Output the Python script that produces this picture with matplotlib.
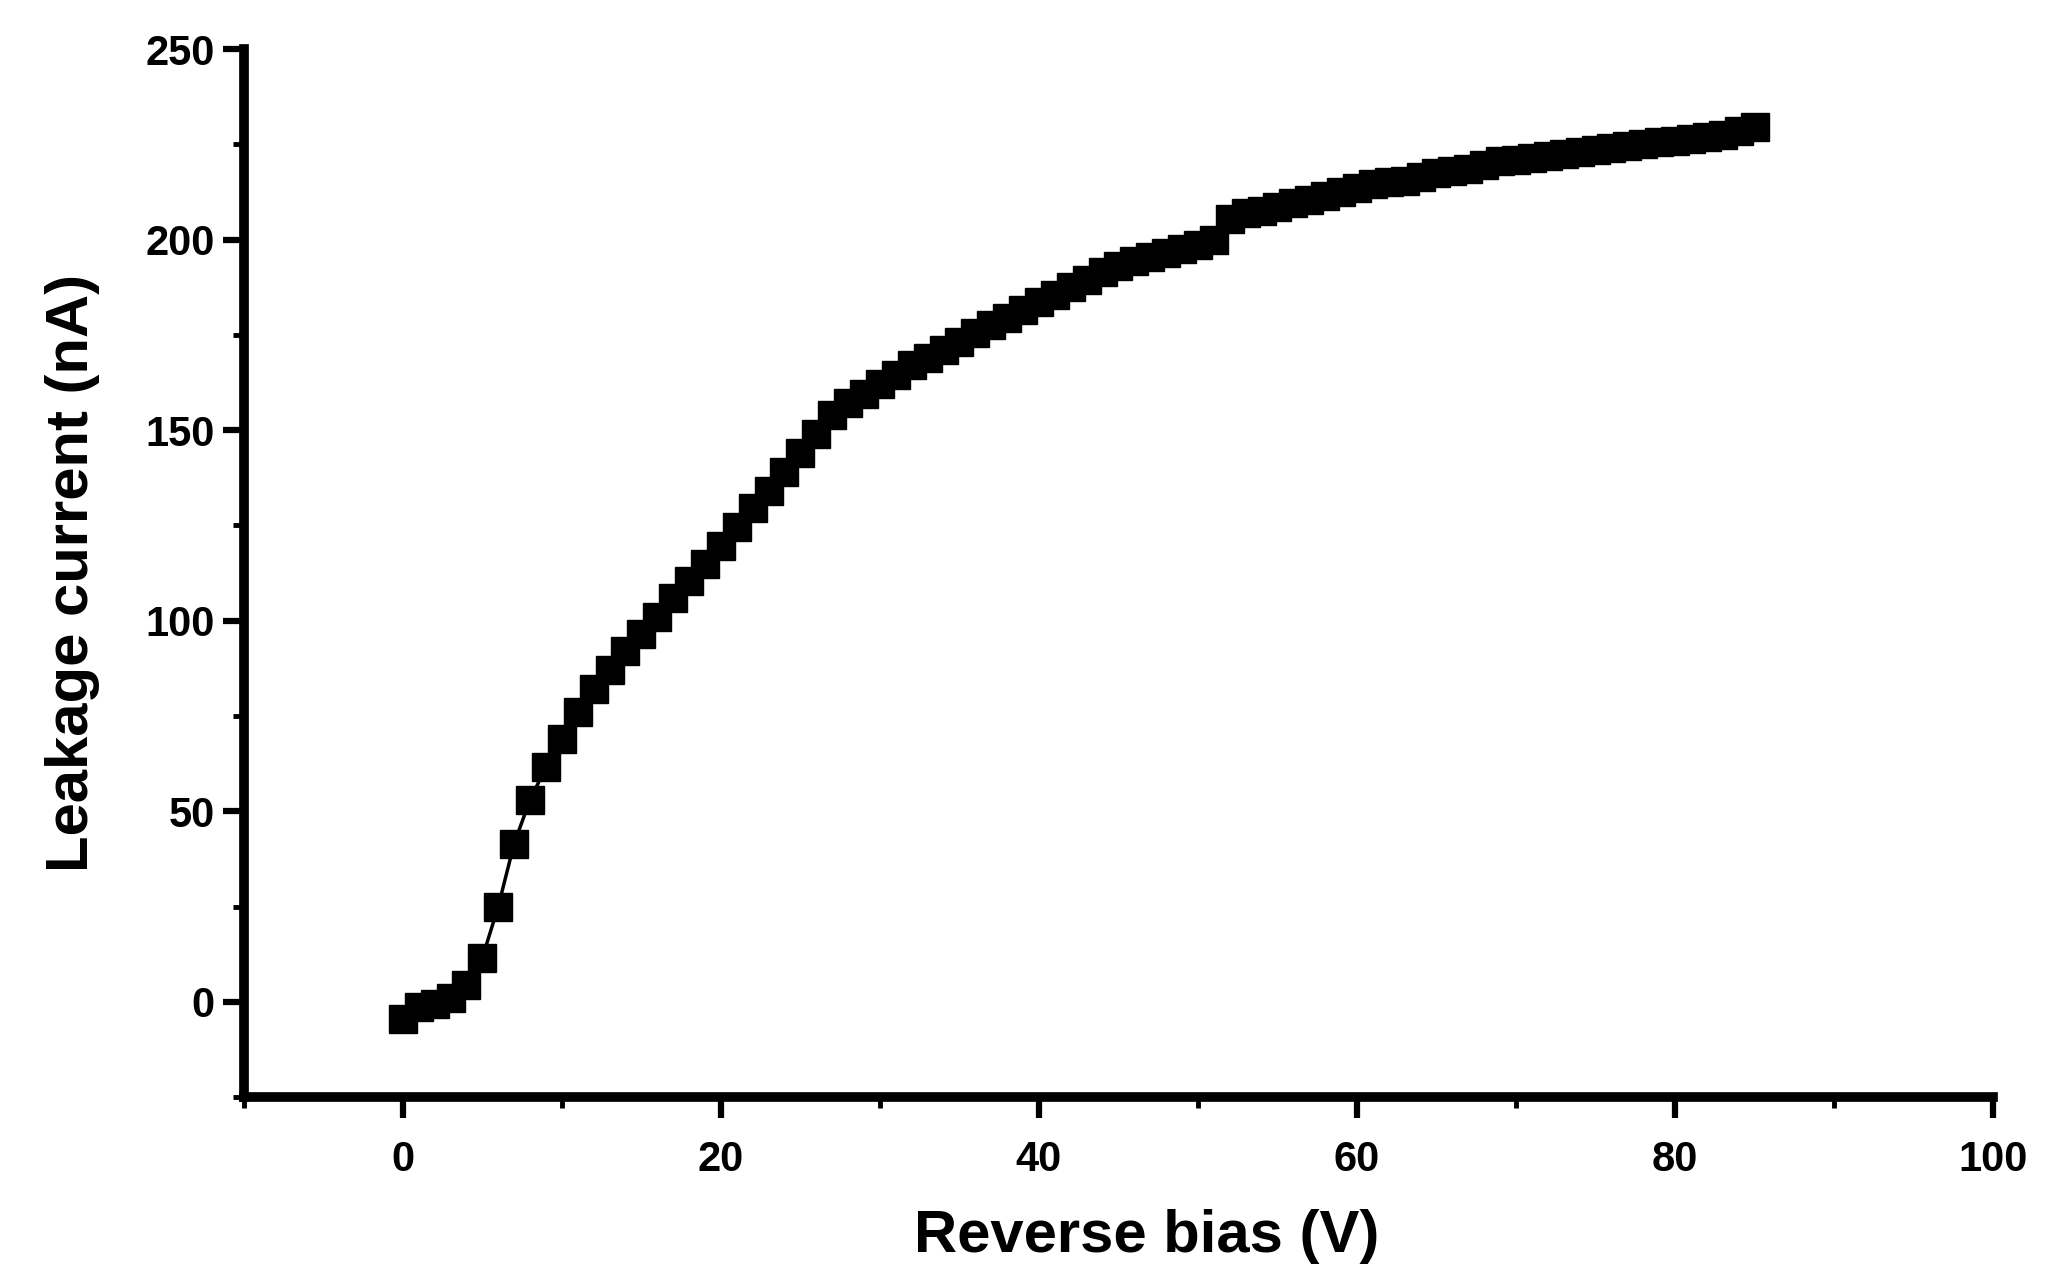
import numpy as np
import matplotlib
matplotlib.use("Agg")
import matplotlib.pyplot as plt
from matplotlib.ticker import MultipleLocator

# reverse bias sweep, 1 V steps
bias = np.arange(0, 86, 1)
current = [
    -4.5, -1.5, -0.5, 1.0, 4.5, 11.5, 25.0, 41.5, 53.0, 61.5,      # 0-9 V
    69.0, 76.0, 82.0, 87.0, 92.0, 96.5, 101.0, 106.0, 110.5, 115.0,  # 10-19 V
    119.5, 124.5, 129.5, 134.0, 139.0, 144.0, 149.0, 154.0, 157.0, 159.5,
    162.0, 164.5, 167.0, 169.0, 171.0, 173.0, 175.5, 177.5, 179.5, 181.5,
    183.5, 185.5, 187.5, 189.5, 191.5, 193.0, 194.5, 195.5, 196.5, 197.5,
    198.5, 200.0, 205.5, 207.0, 207.5, 208.5, 209.5, 210.5, 211.5, 212.5,
    213.5, 214.5, 215.0, 215.5, 216.5, 217.5, 218.0, 218.5, 219.5, 220.5,
    221.0, 221.5, 222.0, 222.5, 223.0, 223.5, 224.0, 224.5, 225.0, 225.5,
    226.0, 226.5, 227.0, 227.5, 228.5, 229.5,
]

x_ticks = [0, 20, 40, 60, 80, 100]
y_ticks = [0, 50, 100, 150, 200, 250]

plt.rcParams['font.family'] = ['Liberation Sans', 'DejaVu Sans']
plt.rcParams['font.weight'] = 'bold'

fig = plt.figure(figsize=(20.66, 12.81), dpi=100)
ax = fig.add_axes([0.118, 0.1436, 0.8467, 0.8181])

ax.plot(bias, current, color='black', lw=2.5, marker='s', ms=20,
        mec='black', mfc='black')

ax.set_xlim(-10, 100)
ax.set_ylim(-25, 250)
ax.set_xticks(x_ticks)
ax.set_yticks(y_ticks)
ax.xaxis.set_minor_locator(MultipleLocator(10))
ax.yaxis.set_minor_locator(MultipleLocator(25))

for side in ['top', 'right']:
    ax.spines[side].set_visible(False)
for side in ['left', 'bottom']:
    ax.spines[side].set_linewidth(7)
    ax.spines[side].set_capstyle('projecting')

ax.tick_params(axis='both', which='major', direction='out', length=15,
               width=4.5, labelsize=30)
ax.tick_params(axis='both', which='minor', direction='out', length=8,
               width=3.5)
ax.tick_params(axis='x', which='major', pad=16)
ax.tick_params(axis='y', which='major', pad=6)

ax.set_xlabel('Reverse bias (V)', fontsize=43, fontweight='bold')
ax.set_ylabel('Leakage current (nA)', fontsize=43, fontweight='bold')
ax.xaxis.set_label_coords(0.516, -0.107)
ax.yaxis.set_label_coords(-0.082, 0.5)

fig.savefig('out.png', dpi=100, facecolor='white')
